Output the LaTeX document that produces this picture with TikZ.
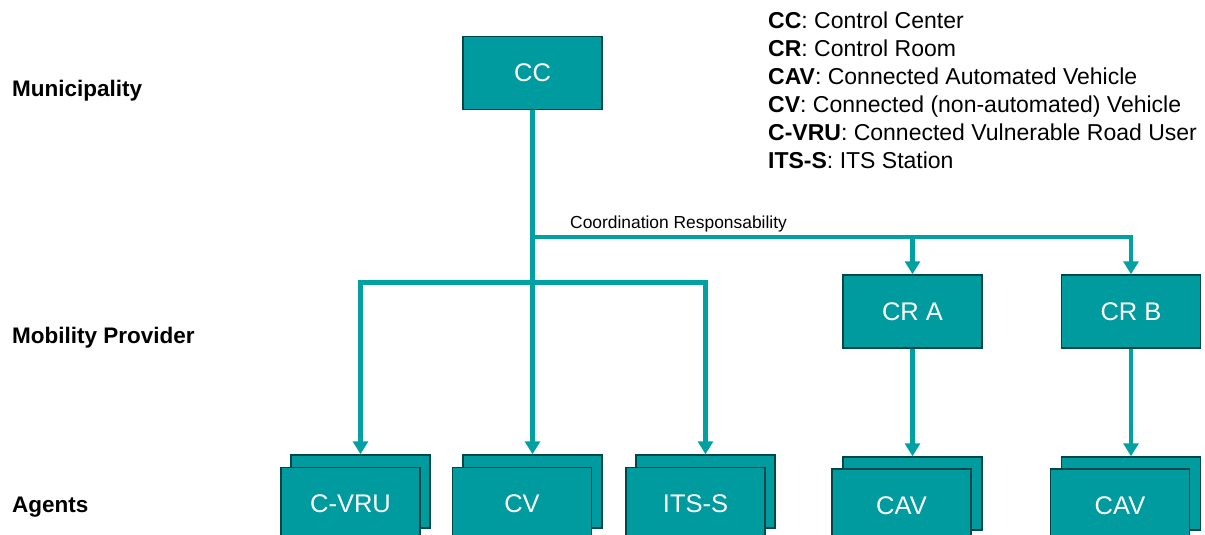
\documentclass[tikz,border=0pt]{standalone}
\usepackage{fontspec}
\setmainfont{Liberation Sans}
\usetikzlibrary{arrows.meta}
\definecolor{tealfill}{HTML}{009B9E}
\definecolor{tealline}{HTML}{00A0A3}
\definecolor{tealdark}{HTML}{00474A}
\begin{document}
\begin{tikzpicture}[x=1pt,y=-1pt,
 box/.style={draw=tealdark, line width=1.5pt, fill=tealfill, minimum width=139pt, minimum height=73pt, inner sep=0pt, text=white, font=\fontsize{25.5}{30}\selectfont},
 conn/.style={draw=tealline, line width=4.5pt},
 arr/.style={conn, -{Triangle[length=13pt,width=15pt]}},
 lvl/.style={anchor=base west, font=\fontsize{22.5}{27}\selectfont\bfseries, inner sep=0pt},
 leg/.style={anchor=base west, font=\fontsize{23}{27}\selectfont, inner sep=0pt},
 lbl/.style={anchor=base west, font=\fontsize{17.4}{20}\selectfont, inner sep=0pt}]
\useasboundingbox (0,0) rectangle (1205,535);

% level labels
\node[lvl] (lmun) at (12,96) {Municipality};
\node[lvl] (lmob) at (12,343) {Mobility Provider};
\node[lvl] (lag) at (12,512) {Agents};

% legend
\node[leg] (g1) at (768,29) {\textbf{CC}: Control Center};
\node[leg] (g2) at (768,56.8) {\textbf{CR}: Control Room};
\node[leg] (g3) at (768,84.6) {\textbf{CAV}: Connected Automated Vehicle};
\node[leg] (g4) at (768,112.4) {\textbf{CV}: Connected (non-automated) Vehicle};
\node[leg] (g5) at (768,140.2) {\textbf{C-VRU}: Connected Vulnerable Road User};
\node[leg] (g6) at (768,168) {\textbf{ITS-S}: ITS Station};

% boxes
\node[box] (CC) at (532.5,73) {CC};
\node[box] (CRA) at (912.5,311.5) {CR A};
\node[box] (CRB) at (1131,311.5) {CR B};

\node[box] (vruB) at (360.5,491.5) {};
\node[box] (vru) at (350.5,504) {C-VRU};
\node[box] (cvB) at (532.5,491.5) {};
\node[box] (cv) at (522,504) {CV};
\node[box] (itsB) at (705.5,491.5) {};
\node[box] (its) at (695.5,504) {ITS-S};
\node[box] (cavaB) at (912.5,493.5) {};
\node[box] (cava) at (901.5,505.5) {CAV};
\node[box] (cavbB) at (1131,493.5) {};
\node[box] (cavb) at (1120,505.5) {CAV};

% connectors
\coordinate (j1) at (532.5,237);
\coordinate (j2) at (532.5,282.5);
\draw[arr] (CC.south) -- (cvB.north);
\draw[arr] (j1) -| (CRB.north);
\draw[arr] (CRA.north |- j1) -- (CRA.north);
\draw[arr] (j2) -| (vruB.north);
\draw[arr] (j2) -| (itsB.north);
\draw[arr] (CRA.south) -- (cavaB.north);
\draw[arr] (CRB.south) -- (cavbB.north);

\node[lbl] (coord) at (570,228) {Coordination Responsability};
\end{tikzpicture}
\end{document}
